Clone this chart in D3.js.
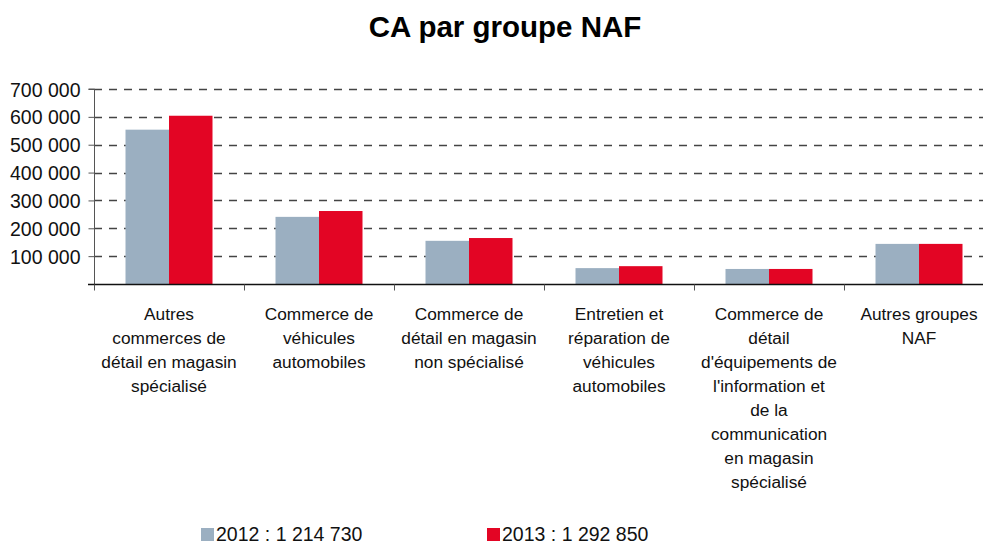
<!DOCTYPE html>
<html>
<head>
<meta charset="utf-8">
<script src="https://cdn.jsdelivr.net/npm/d3@7"></script>
<style>
  body { margin: 0; background: #fff; }
  svg { display: block; font-family: "Liberation Sans", Arial, Helvetica, sans-serif; }
</style>
</head>
<body>
<svg id="chart" width="983" height="545"></svg>
<script>
const categories = [
  "Autres\ncommerces de\ndétail en magasin\nspécialisé",
  "Commerce de\nvéhicules\nautomobiles",
  "Commerce de\ndétail en magasin\nnon spécialisé",
  "Entretien et\nréparation de\nvéhicules\nautomobiles",
  "Commerce de\ndétail\nd'équipements de\nl'information et\nde la\ncommunication\nen magasin\nspécialisé",
  "Autres groupes\nNAF"
];
const years = ["2012", "2013"];
const values2012 = [554000, 241000, 155000, 57000, 54000, 144000];
const values2013 = [604000, 262000, 165000, 64000, 54000, 144000];
const totals = ["1 214 730", "1 292 850"];
const yTicks = [100000, 200000, 300000, 400000, 500000, 600000, 700000];
const colors = { "2012": "#9bafc1", "2013": "#e30524" };

const svg = d3.select('#chart');
const series = { "2012": values2012, "2013": values2013 };

const x = d3.scaleBand().domain(categories).range([94, 994]).padding(0);
const x1 = d3.scaleBand().domain(years)
  .range([x.bandwidth() * 0.21, x.bandwidth() * 0.79]).padding(0);
const y = d3.scaleLinear().domain([0, 700000]).range([284, 89]);

const fmt = (v) => d3.format(',')(v).replace(/,/g, ' ');

// title
svg.append('text')
  .attr('x', 505)
  .attr('y', 37)
  .attr('text-anchor', 'middle')
  .attr('font-size', 29.5)
  .attr('font-weight', 'bold')
  .attr('fill', '#000')
  .text('CA par groupe NAF');

// grid lines
svg.append('g')
  .selectAll('line')
  .data(yTicks)
  .join('line')
  .attr('x1', 94)
  .attr('x2', 983)
  .attr('y1', (d) => Math.round(y(d)) + 0.5)
  .attr('y2', (d) => Math.round(y(d)) + 0.5)
  .attr('stroke', '#444')
  .attr('stroke-width', 1.3)
  .attr('stroke-dasharray', '8,7');

// y axis
const yAxis = svg.append('g')
  .attr('transform', 'translate(94.5,0)')
  .call(d3.axisLeft(y).tickValues([0].concat(yTicks)).tickSize(6).tickFormat((d) => d === 0 ? '' : fmt(d)));
yAxis.select('.domain').attr('stroke', '#555').attr('d', `M-6,${y(700000)}H0V${y(0)}`);
yAxis.selectAll('.tick line').attr('stroke', '#555');
yAxis.selectAll('.tick text')
  .attr('x', -14)
  .attr('dy', '0.36em')
  .attr('font-size', 19.5)
  .attr('font-family', '"Liberation Sans", Arial, sans-serif')
  .attr('fill', '#111');

// bars
const groups = svg.append('g')
  .selectAll('g')
  .data(categories)
  .join('g')
  .attr('transform', (d) => `translate(${x(d)},0)`);

groups.selectAll('rect')
  .data((d, i) => years.map((yr) => ({ yr, v: series[yr][i] })))
  .join('rect')
  .attr('x', (d) => x1(d.yr))
  .attr('width', x1.bandwidth())
  .attr('y', (d) => y(d.v))
  .attr('height', (d) => y(0) - y(d.v))
  .attr('fill', (d) => colors[d.yr]);

// x axis
const xAxis = svg.append('g').attr('transform', `translate(0,${y(0) + 0.5})`);
xAxis.append('line')
  .attr('x1', 88).attr('x2', 983)
  .attr('stroke', '#111').attr('stroke-width', 1.3);
xAxis.selectAll('line.tk')
  .data(categories.concat(['__end']))
  .join('line')
  .classed('tk', true)
  .attr('x1', (d, i) => 94.5 + i * x.bandwidth())
  .attr('x2', (d, i) => 94.5 + i * x.bandwidth())
  .attr('y1', 0).attr('y2', 6)
  .attr('stroke', '#555');

// category labels
svg.append('g')
  .selectAll('text')
  .data(categories)
  .join('text')
  .attr('text-anchor', 'middle')
  .attr('font-size', 17.3)
  .attr('fill', '#111')
  .each(function (d) {
    const t = d3.select(this);
    d.split('\n').forEach((line, i) => {
      t.append('tspan')
        .attr('x', x(d) + x.bandwidth() / 2)
        .attr('y', 320 + i * 24)
        .text(line);
    });
  });

// legend
const legendX = [201, 487];
const legend = svg.append('g')
  .selectAll('g')
  .data(years)
  .join('g')
  .attr('transform', (d, i) => `translate(${legendX[i]},528)`);
legend.append('rect')
  .attr('width', 13).attr('height', 13)
  .attr('fill', (d) => colors[d]);
legend.append('text')
  .attr('x', 15)
  .attr('y', 13)
  .attr('font-size', 19.5)
  .attr('fill', '#111')
  .text((d, i) => `${d} : ${totals[i]}`);
</script>
</body>
</html>
